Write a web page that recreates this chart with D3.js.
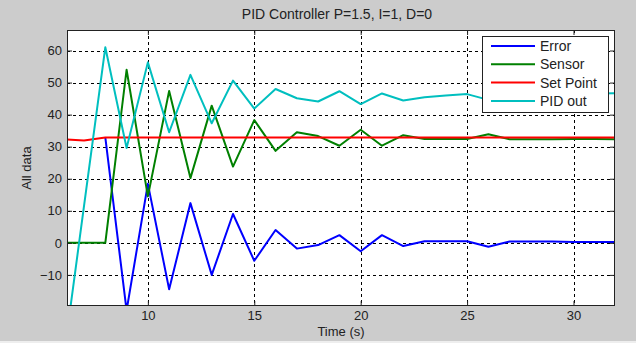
<!DOCTYPE html>
<html>
<head>
<meta charset="utf-8">
<script src="https://cdn.jsdelivr.net/npm/d3@7"></script>
<style>
	html, body { margin: 0; padding: 0; background: #cccccc; }
	svg { display: block; font-family: "Liberation Sans", Arial, sans-serif; }
</style>
</head>
<body>
<div id="chart"></div>
<script>
// Sample times (s)
const time = [6, 7, 8, 9, 10, 11, 12, 13, 14, 15, 16, 17, 18, 19, 20, 21, 22, 23, 24, 25, 26, 27, 28, 29, 30, 31, 32];

// Series values
const errorValues = [null, null, 32.9, -21.1, 18.4, -14.5, 12.4, -10.0, 9.0, -5.6, 4.0, -1.8, -0.7, 2.4, -2.6, 2.4, -1.0, 0.5, 0.5, 0.5, -1.2, 0.4, 0.4, 0.4, 0.3, 0.3, 0.3];
const sensorValues = [0, 0, 0, 54.0, 14.5, 47.4, 20.2, 42.8, 23.8, 38.3, 28.7, 34.5, 33.3, 30.3, 35.3, 30.3, 33.6, 32.4, 32.4, 32.4, 33.9, 32.3, 32.3, 32.3, 32.4, 32.4, 32.3];
const setPointValues = [32.3, 31.9, 32.9, 32.9, 32.9, 32.9, 32.9, 32.9, 32.9, 32.9, 32.9, 32.9, 32.9, 32.9, 32.9, 32.9, 32.9, 32.9, 32.9, 32.9, 32.9, 32.9, 32.9, 32.9, 32.9, 32.9, 32.9];
const pidOutValues = [-38.0, 11.5, 61.0, 29.6, 56.3, 34.5, 52.4, 37.3, 50.6, 41.9, 48.0, 45.1, 44.1, 47.3, 43.3, 46.6, 44.4, 45.4, 46.0, 46.4, 44.6, 46.0, 46.3, 46.4, 46.5, 46.6, 46.7];

const seriesNames = ['Error', 'Sensor', 'Set Point', 'PID out'];
const seriesColors = ['#0000ff', '#008000', '#ff0000', '#00bfbf'];
const xTicks = [10, 15, 20, 25, 30];
const yTicks = [-10, 0, 10, 20, 30, 40, 50, 60];

const width = 636, height = 343;
const plot = { left: 67, right: 615, top: 30, bottom: 306 };

const svg = d3.select('#chart')
	.append('svg')
	.attr('width', width)
	.attr('height', height);

// figure background
svg.append('rect').attr('width', width).attr('height', height).attr('fill', '#cccccc');
svg.append('rect').attr('y', 341).attr('width', width).attr('height', 2).attr('fill', '#eeeeee');

const x = d3.scaleLinear().domain([6.2, 31.95]).range([plot.left, plot.right]);
const y = d3.scaleLinear().domain([-19.7, 66.4]).range([plot.bottom, plot.top]);

svg.append('rect')
	.attr('x', plot.left).attr('y', plot.top)
	.attr('width', plot.right - plot.left).attr('height', plot.bottom - plot.top)
	.attr('fill', '#ffffff');

svg.append('clipPath').attr('id', 'clip')
	.append('rect')
	.attr('x', plot.left).attr('y', plot.top)
	.attr('width', plot.right - plot.left).attr('height', plot.bottom - plot.top);

// dotted grid
const grid = svg.append('g').attr('stroke', '#000').attr('stroke-width', 1).attr('stroke-dasharray', '3,3');
grid.selectAll('line.gx')
	.data(xTicks)
	.join('line')
	.attr('x1', d => Math.round(x(d)) + 0.5).attr('x2', d => Math.round(x(d)) + 0.5)
	.attr('y1', plot.top).attr('y2', plot.bottom);
grid.selectAll('line.gy')
	.data(yTicks)
	.join('line')
	.attr('y1', d => Math.round(y(d)) + 0.5).attr('y2', d => Math.round(y(d)) + 0.5)
	.attr('x1', plot.left).attr('x2', plot.right);

// data lines
const series = [errorValues, sensorValues, setPointValues, pidOutValues];
const line = d3.line()
	.defined(d => d[1] !== null)
	.x(d => x(d[0]))
	.y(d => y(d[1]));

svg.append('g')
	.attr('clip-path', 'url(#clip)')
	.selectAll('path')
	.data(series)
	.join('path')
	.attr('fill', 'none')
	.attr('stroke', (d, i) => seriesColors[i])
	.attr('stroke-width', 2)
	.attr('stroke-linejoin', 'round')
	.attr('d', vals => line(time.map((t, i) => [t, vals[i]])));

// axes, ticks inward on all four sides
const tickStyle = g => {
	g.select('.domain').remove();
	g.selectAll('.tick line').attr('stroke', '#222');
	g.selectAll('.tick text').attr('fill', '#222').attr('font-size', 13);
};
svg.append('g')
	.attr('transform', `translate(0,${plot.bottom})`)
	.call(d3.axisBottom(x).tickValues(xTicks).tickSize(-5).tickPadding(5).tickFormat(d3.format('d')))
	.call(tickStyle);
svg.append('g')
	.attr('transform', `translate(0,${plot.top})`)
	.call(d3.axisTop(x).tickValues(xTicks).tickSize(-5).tickFormat(''))
	.call(tickStyle);
svg.append('g')
	.attr('transform', `translate(${plot.left},0)`)
	.call(d3.axisLeft(y).tickValues(yTicks).tickSize(-5).tickPadding(5).tickFormat(d3.format('d')))
	.call(tickStyle);
svg.append('g')
	.attr('transform', `translate(${plot.right},0)`)
	.call(d3.axisRight(y).tickValues(yTicks).tickSize(-5).tickFormat(''))
	.call(tickStyle);

svg.append('rect')
	.attr('x', plot.left + 0.5).attr('y', plot.top + 0.5)
	.attr('width', plot.right - plot.left - 1).attr('height', plot.bottom - plot.top - 1)
	.attr('fill', 'none').attr('stroke', '#222');

// labels
svg.append('text')
	.attr('x', 337).attr('y', 19)
	.attr('text-anchor', 'middle').attr('font-size', 14).attr('fill', '#222')
	.text('PID Controller P=1.5, I=1, D=0');
svg.append('text')
	.attr('x', 341).attr('y', 336)
	.attr('text-anchor', 'middle').attr('font-size', 13).attr('fill', '#222')
	.text('Time (s)');
svg.append('text')
	.attr('transform', 'translate(31,168) rotate(-90)')
	.attr('text-anchor', 'middle').attr('font-size', 13).attr('fill', '#222')
	.text('All data');

// legend
const legend = svg.append('g').attr('transform', 'translate(482,36)');
legend.append('rect')
	.attr('x', 0.5).attr('y', 0.5).attr('width', 126).attr('height', 76)
	.attr('fill', '#fff').attr('stroke', '#222');
const item = legend.selectAll('g.item')
	.data(seriesNames)
	.join('g')
	.attr('transform', (d, i) => `translate(0,${10 + i * 18.3})`);
item.append('line')
	.attr('x1', 9).attr('x2', 53)
	.attr('stroke', (d, i) => seriesColors[i]).attr('stroke-width', 2);
item.append('text')
	.attr('x', 58).attr('dy', '0.35em')
	.attr('font-size', 14).attr('fill', '#222')
	.text(d => d);
</script>
</body>
</html>
